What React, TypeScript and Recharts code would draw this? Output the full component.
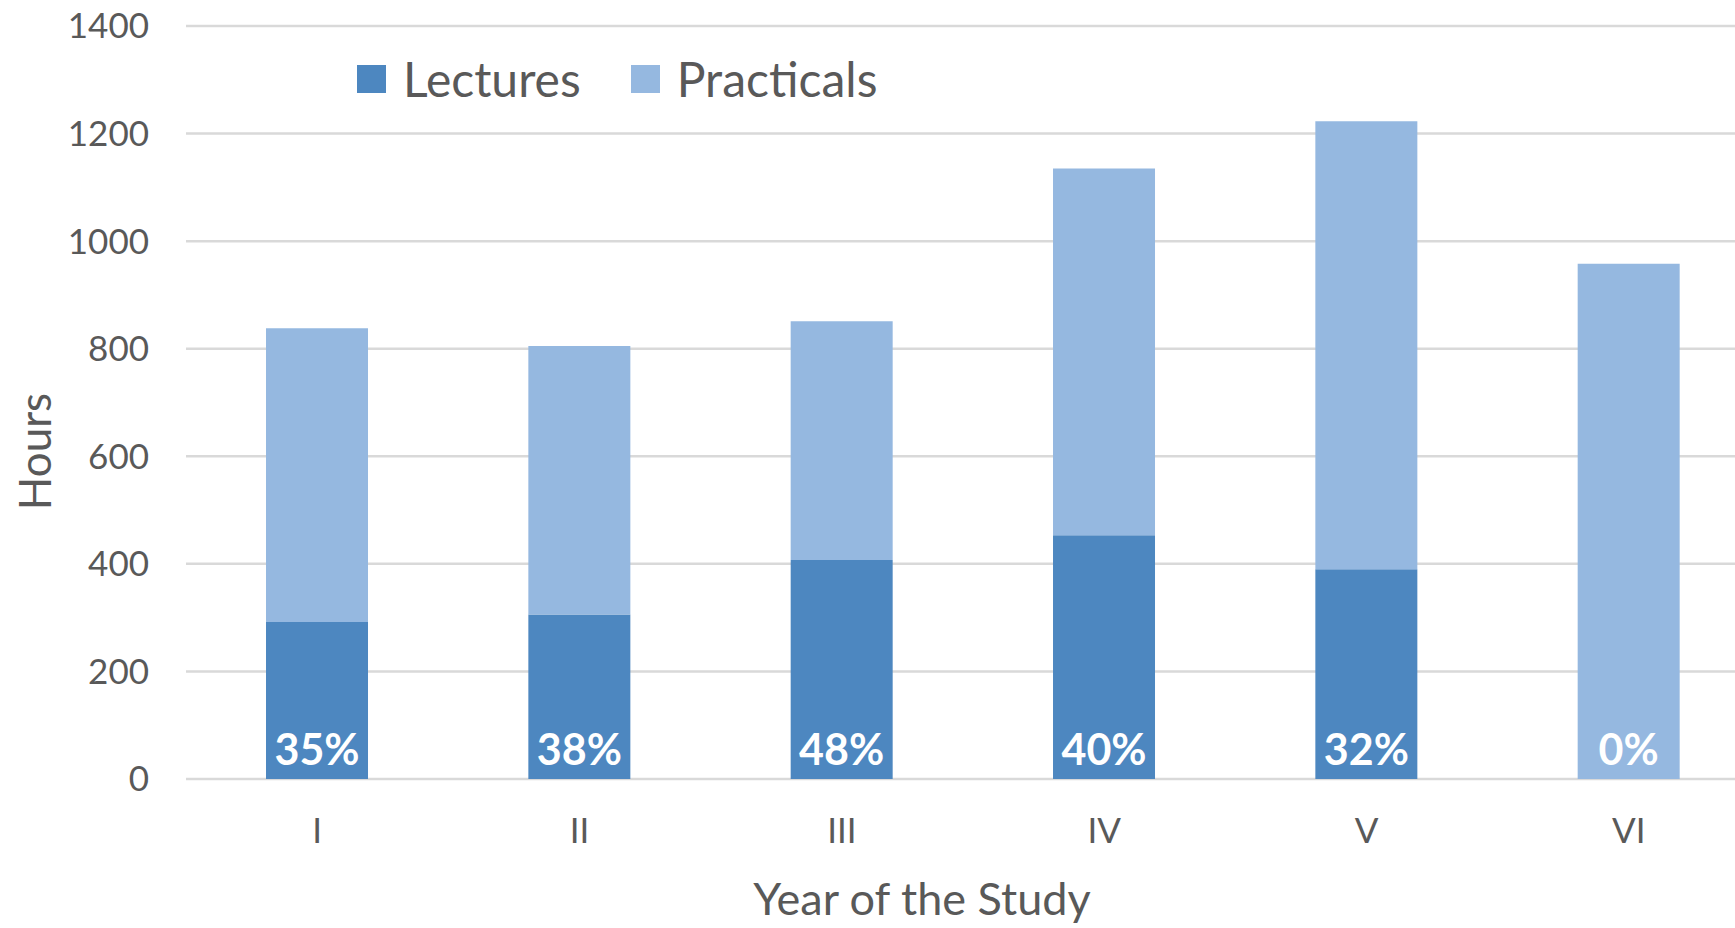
import { BarChart, Bar, XAxis, YAxis, CartesianGrid, Legend, LabelList } from 'recharts';

const years = ['I', 'II', 'III', 'IV', 'V', 'VI'];
const lectures = [292, 306, 407, 453, 390, 0];
const practicals = [546, 499, 444, 682, 833, 958];
const yTicks = [0, 200, 400, 600, 800, 1000, 1200, 1400];

const LECT_COLOR = '#4D87C0';
const PRAC_COLOR = '#95B8E0';
const TEXT = '#595959';
const FONT = 'Lato, "Open Sans", sans-serif';

const data = years.map((year, i) => ({ year, lectures: lectures[i], practicals: practicals[i] }));

// lecture share printed at the foot of each stack (label sits on the top series so it is never covered)
function ShareLabel(props: any) {
  const vb = props.viewBox ?? props;
  const { x, y, width, height } = vb;
  const i = typeof props.index === 'number' ? props.index : years.indexOf(props.value);
  const lec = lectures[i];
  const prac = practicals[i];
  const h = Math.abs(height);
  const top = Math.min(y, y + height);
  const base = top + h + (prac > 0 ? (h * lec) / prac : 0);
  const pct = Math.round((100 * lec) / (lec + prac));
  return (
    <text x={x + width / 2} y={base - 14} textAnchor="middle" fill="#fff" fontWeight={700} fontSize={43} fontFamily={FONT}>
      {pct}%
    </text>
  );
}

function LegendBox(props: any) {
  const items = props.payload ?? [];
  return (
    <div style={{ display: 'flex', alignItems: 'center', fontFamily: FONT, fontSize: 48, color: TEXT, lineHeight: 1 }}>
      {items.map((it: any) => (
        <div key={it.value} style={{ display: 'flex', alignItems: 'center', marginRight: 50 }}>
          <span style={{ width: 29, height: 28, background: it.color, marginRight: 17, display: 'inline-block' }} />
          <span>{it.value}</span>
        </div>
      ))}
    </div>
  );
}

export default function App() {
  return (
    <div style={{ position: 'fixed', top: 0, left: 0, width: 1735, height: 928, overflow: 'hidden', background: '#fff' }}>
      <BarChart width={1760} height={928} data={data} margin={{ top: 26, right: 0, bottom: 0, left: 0 }} barCategoryGap="30.5%">
        <CartesianGrid vertical={false} stroke="#d9d9d9" strokeWidth={2.5} />
        <XAxis
          dataKey="year"
          height={149}
          axisLine={false}
          tickLine={false}
          tickSize={0}
          tickMargin={39}
          tick={{ fill: TEXT, fontSize: 35, fontFamily: FONT }}
          label={{ value: 'Year of the Study', position: 'center', dx: -51, dy: 46, fill: TEXT, fontSize: 45, fontFamily: FONT }}
        />
        <YAxis
          width={186}
          domain={[0, 1400]}
          ticks={yTicks}
          axisLine={false}
          tickLine={false}
          tickSize={0}
          tickMargin={37}
          tick={{ fill: TEXT, fontSize: 35, fontFamily: FONT }}
          label={{ value: 'Hours', angle: -90, position: 'center', dx: -58, dy: 49, fill: TEXT, fontSize: 44, fontFamily: FONT }}
        />
        <Legend
          layout="horizontal"
          verticalAlign="middle"
          align="center"
          content={LegendBox}
          wrapperStyle={{ top: 55, left: 357, width: 'auto', height: 'auto' }}
        />
        <Bar dataKey="lectures" name="Lectures" stackId="a" fill={LECT_COLOR} isAnimationActive={false} />
        <Bar dataKey="practicals" name="Practicals" stackId="a" fill={PRAC_COLOR} isAnimationActive={false}>
          <LabelList dataKey="year" content={ShareLabel} />
        </Bar>
      </BarChart>
    </div>
  );
}
